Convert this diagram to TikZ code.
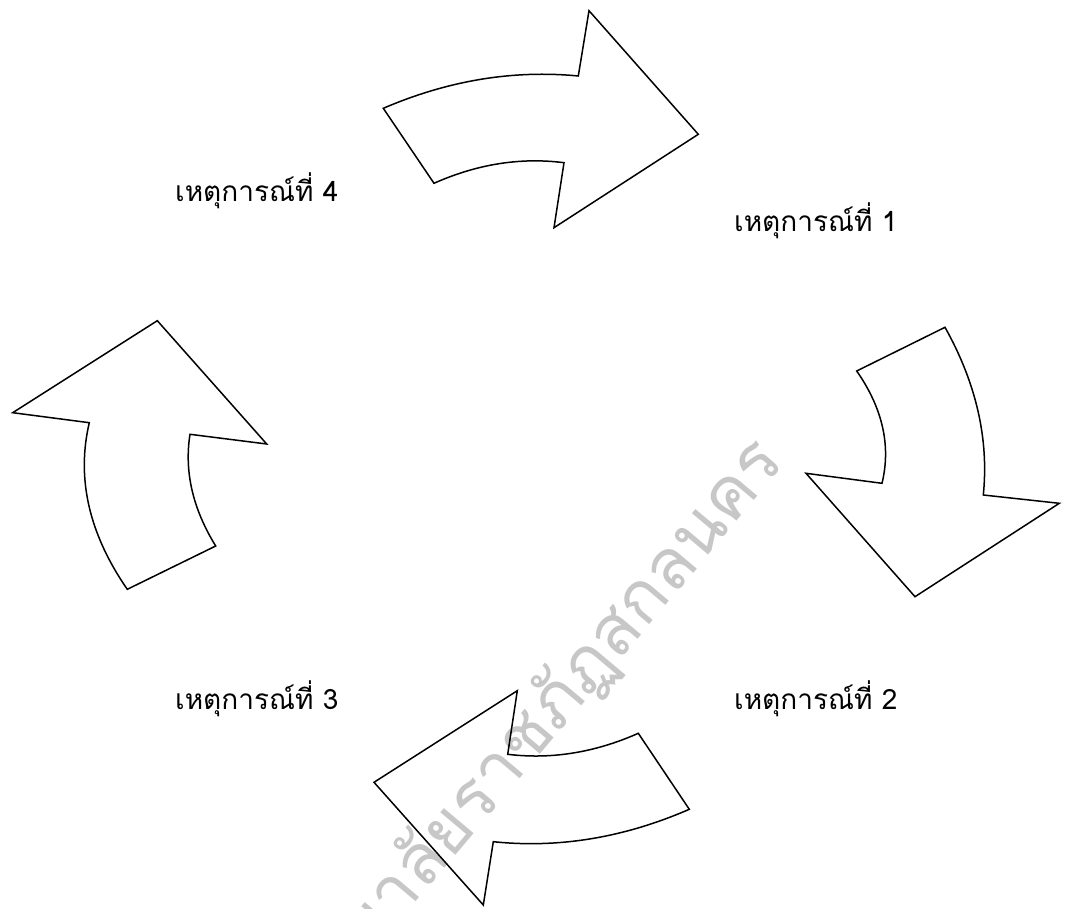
\documentclass[tikz,border=0pt]{standalone}
\usepackage{fontspec}
\newfontfamily\thaifont[Script=Thai]{Loma}
\begin{document}
\begin{tikzpicture}[x=1pt,y=-1pt,
  arrowshape/.style={draw=black,line width=1.5pt,line join=miter},
  evlabel/.style={font=\thaifont\fontsize{28}{32}\selectfont,anchor=base west,inner sep=0pt},
  wmark/.style={font=\thaifont\fontsize{70}{78}\selectfont,text=black!22,inner sep=0pt}]
\path[use as bounding box,fill=white] (0,0) rectangle (1066,909);
\begin{scope}
\clip (0,0) rectangle (1066,909);
\coordinate (wa) at (462,848);
\coordinate (wb) at (786,463);
\path (wa) -- (wb) node[wmark,pos=1,sloped,anchor=base east] (wm) {มหาวิทยาลัยราชภัฏสกลนคร};
\end{scope}
% arrow 1 (top, pointing right)
\draw[arrowshape] (383.3,108.3) .. controls (448.3,80.4) and (513.3,69.7) .. (578.3,76)
  -- (589,10.7) -- (698.3,134.3) -- (554,227.7) -- (564,162.7)
  .. controls (520.7,157.2) and (477.3,164.0) .. (434,183.3) -- cycle;
% arrow 2 (right, pointing down)
\draw[arrowshape] (945,327.3) -- (856.7,371) .. controls (882.7,408.3) and (891.1,445.8) .. (882,483.3)
  -- (806,473.3) -- (915,596.7) -- (1059.3,503.3) -- (983.3,495)
  .. controls (989,439) and (976.2,383.1) .. cycle;
% arrow 3 (bottom, pointing left)
\draw[arrowshape] (638.3,733.3) -- (689.3,809.3) .. controls (624,837.7) and (558.6,848.5) .. (493.3,841.7)
  -- (483.3,905) -- (374,782.3) -- (517.3,690.7) -- (507.7,754.3)
  .. controls (551.2,759.6) and (594.8,752.6) .. cycle;
% arrow 4 (left, pointing up)
\draw[arrowshape] (127.3,589.3) -- (215.7,546) .. controls (192.7,508.7) and (184.1,471.4) .. (190,434.3)
  -- (266.7,444) -- (157.3,320.7) -- (12.7,412.7) -- (89.3,422.7)
  .. controls (76.2,478.2) and (88.9,533.8) .. cycle;
% labels
\node[evlabel] (l4) at (175,202) {เหตุการณ์ที่ 4};
\node[evlabel] (l1) at (734,232) {เหตุการณ์ที่ 1};
\node[evlabel] (l3) at (175,709) {เหตุการณ์ที่ 3};
\node[evlabel] (l2) at (734,709) {เหตุการณ์ที่ 2};
\end{tikzpicture}
\end{document}
